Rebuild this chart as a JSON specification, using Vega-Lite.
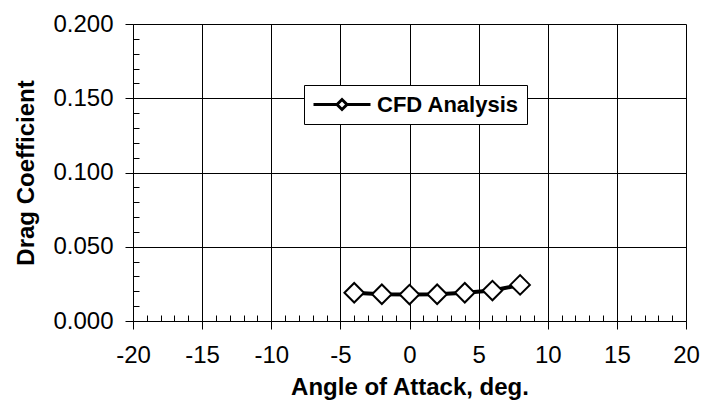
{
  "$schema": "https://vega.github.io/schema/vega-lite/v6.json",
  "width": 553,
  "height": 297,
  "autosize": {"type": "none"},
  "padding": {"left": 133, "top": 24, "right": 16, "bottom": 85},
  "background": "white",
  "config": {"view": {"stroke": null}, "font": "Liberation Sans"},
  "data": {
    "values": [
      {"aoa": -4, "cd": 0.0190},
      {"aoa": -2, "cd": 0.0180},
      {"aoa": 0, "cd": 0.0178},
      {"aoa": 2, "cd": 0.0180},
      {"aoa": 4, "cd": 0.0190},
      {"aoa": 6, "cd": 0.0205},
      {"aoa": 8, "cd": 0.0243}
    ]
  },
  "encoding": {
    "x": {
      "field": "aoa",
      "type": "quantitative",
      "scale": {"domain": [-20, 20], "nice": false, "zero": false},
      "axis": {
        "title": "Angle of Attack, deg.",
        "values": [-20,-19,-18,-17,-16,-15,-14,-13,-12,-11,-10,-9,-8,-7,-6,-5,-4,-3,-2,-1,0,1,2,3,4,5,6,7,8,9,10,11,12,13,14,15,16,17,18,19,20],
        "labelExpr": "datum.value % 5 == 0 ? '' + datum.value : ''",
        "tickSize": {"condition": {"test": "datum.value % 5 == 0", "value": 8}, "value": -6},
        "grid": true,
        "gridColor": "black",
        "gridWidth": 1,
        "gridOpacity": {"condition": {"test": "datum.value % 5 == 0", "value": 1}, "value": 0},
        "domainColor": "black",
        "domainWidth": 1,
        "tickColor": "black",
        "tickWidth": 1,
        "labelFont": "Liberation Sans",
        "labelFontSize": 24,
        "labelColor": "black",
        "labelPadding": 14,
        "labelFlush": false,
        "labelOverlap": false,
        "titleFont": "Liberation Sans",
        "titleFontSize": 24,
        "titleFontWeight": "bold",
        "titleColor": "black",
        "titlePadding": 8
      }
    },
    "y": {
      "field": "cd",
      "type": "quantitative",
      "scale": {"domain": [0, 0.2], "nice": false},
      "axis": {
        "title": "Drag Coefficient",
        "values": [0,0.01,0.02,0.03,0.04,0.05,0.06,0.07,0.08,0.09,0.1,0.11,0.12,0.13,0.14,0.15,0.16,0.17,0.18,0.19,0.2],
        "format": ".3f",
        "labelExpr": "abs(round(datum.value*100)) % 5 == 0 ? datum.label : ''",
        "tickSize": {"condition": {"test": "abs(round(datum.value*100)) % 5 == 0", "value": 8}, "value": -6},
        "grid": true,
        "gridColor": "black",
        "gridWidth": 1,
        "gridOpacity": {"condition": {"test": "abs(round(datum.value*100)) % 5 == 0", "value": 1}, "value": 0},
        "domainColor": "black",
        "domainWidth": 1,
        "tickColor": "black",
        "tickWidth": 1,
        "labelFont": "Liberation Sans",
        "labelFontSize": 24,
        "labelColor": "black",
        "labelPadding": 12,
        "labelFlush": false,
        "labelOverlap": false,
        "titleFont": "Liberation Sans",
        "titleFontSize": 24,
        "titleFontWeight": "bold",
        "titleColor": "black",
        "titlePadding": 14
      }
    }
  },
  "layer": [
    {
      "mark": {"type": "line", "color": "black", "strokeWidth": 4}
    },
    {
      "mark": {"type": "point", "shape": "diamond", "filled": true, "fill": "white", "strokeWidth": 2, "size": 380, "opacity": 1},
      "encoding": {
        "stroke": {
          "datum": "CFD Analysis",
          "scale": {"range": ["black"]},
          "legend": {
            "orient": "none",
            "legendX": 171,
            "legendY": 61,
            "title": null,
            "symbolType": "M-1,0L1.35,0M2.35,0L4.7,0M1.35,0L1.85,-0.5L2.35,0L1.85,0.5Z",
            "symbolSize": 400,
            "symbolStrokeWidth": 3,
            "symbolFillColor": "white",
            "symbolStrokeColor": "black",
            "labelFont": "Liberation Sans",
            "labelFontSize": 22,
            "labelFontWeight": "bold",
            "labelColor": "black",
            "labelOffset": 42,
            "strokeColor": "black",
            "fillColor": "white",
            "padding": 8,
            "encode": {
              "symbols": {"update": {"fill": {"value": "white"}, "stroke": {"value": "black"}, "strokeWidth": {"value": 3.5}, "opacity": {"value": 1}, "size": {"value": 400}}},
              "legend": {"update": {"strokeWidth": {"value": 1.5}}}
            }
          }
        }
      }
    }
  ]
}
